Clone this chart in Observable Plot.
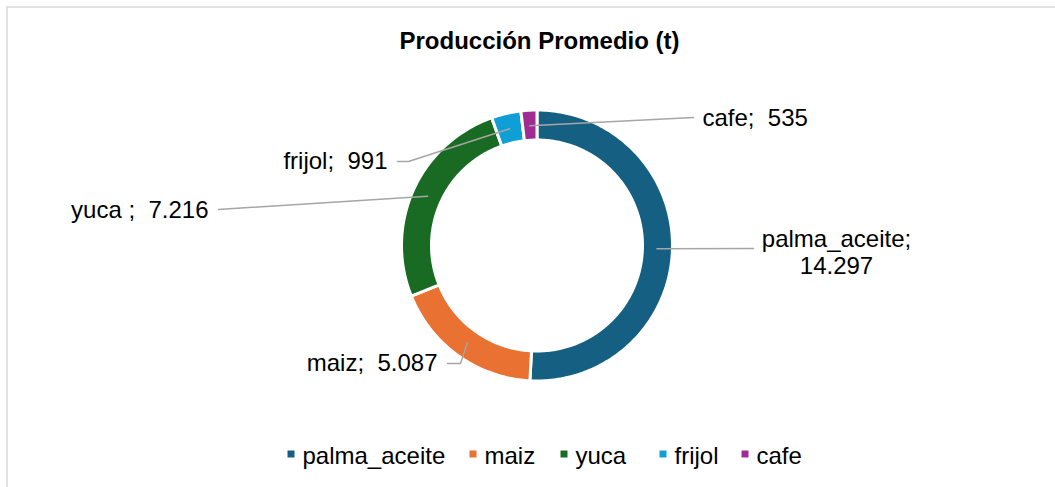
<!DOCTYPE html>
<html><head><meta charset="utf-8">
<script src="https://cdn.jsdelivr.net/npm/d3@7"></script>
<script src="https://cdn.jsdelivr.net/npm/@observablehq/plot@0.6"></script>
<style>
html,body{margin:0;padding:0;background:#fff;overflow:hidden;}
#chart svg{display:block;}
</style></head><body><div id="chart"></div>
<script>
// ---- data ----
const title = "Producción Promedio (t)";
const categories = ["palma_aceite", "maiz", "yuca ", "frijol", "cafe"];
const values = [14297, 5087, 7216, 991, 535];
const colors = ["#156082", "#E97132", "#196B24", "#0F9ED5", "#A02B93"];

// ---- layout (pixels) ----
const W = 1055, H = 487;
const cx = 536.5, cy = 245, rOuter = 135.5, rInner = 105.5, rLeader = 120;
const FONT = "'Liberation Sans', Arial, sans-serif";
const labelLayout = [
  {leader: [[753, 248]], x: 836, y: 251.5, anchor: "middle", sep: ";\n"},
  {leader: [[460, 363], [447, 363]], x: 437, y: 362, anchor: "end", sep: ";\u00a0\u00a0"},
  {leader: [[218, 209]], x: 208, y: 209, anchor: "end", sep: ";\u00a0\u00a0"},
  {leader: [[408, 161], [397, 161]], x: 387, y: 160, anchor: "end", sep: ";\u00a0\u00a0"},
  {leader: [[693, 117]], x: 702, y: 117, anchor: "start", sep: ";\u00a0\u00a0"}
];
const legendX = [287, 469, 560, 659, 741];
const legendY = 456, titleX = 539, titleY = 41;

// ---- derived ----
const fmt = d3.formatLocale({decimal: ",", thousands: ".", grouping: [3], currency: ["", ""]}).format(",d");
const arcs = d3.pie().sort(null).value(d => d)(values);
const pt = (r, a) => ({x: cx + r * Math.sin(a), y: cy - r * Math.cos(a)});

const slicePts = [];
arcs.forEach((a, i) => {
  const n = Math.max(6, Math.ceil((a.endAngle - a.startAngle) / (2 * Math.PI) * 360));
  for (let k = 0; k <= n; k++) slicePts.push({key: categories[i], ...pt(rOuter, a.startAngle + (a.endAngle - a.startAngle) * k / n)});
  for (let k = n; k >= 0; k--) slicePts.push({key: categories[i], ...pt(rInner, a.startAngle + (a.endAngle - a.startAngle) * k / n)});
});

const leaderPts = [];
arcs.forEach((a, i) => {
  const mid = (a.startAngle + a.endAngle) / 2;
  leaderPts.push({key: categories[i], ...pt(rLeader, mid)});
  labelLayout[i].leader.forEach(([x, y]) => leaderPts.push({key: categories[i], x, y}));
});

const labels = categories.map((c, i) => ({
  text: c + labelLayout[i].sep + fmt(values[i]),
  x: labelLayout[i].x, y: labelLayout[i].y, anchor: labelLayout[i].anchor
}));

const textMark = (anchor) => Plot.text(labels, {
  filter: d => d.anchor === anchor, x: "x", y: "y", text: "text",
  textAnchor: anchor, fontSize: 24, fill: "#000", lineHeight: 1.12
});

const chart = Plot.plot({
  width: W, height: H, margin: 0,
  x: {domain: [0, W], range: [0, W], axis: null},
  y: {domain: [0, H], range: [0, H], axis: null},
  color: {domain: categories, range: colors},
  style: {fontFamily: FONT, background: "white", overflow: "hidden"},
  marks: [
    Plot.frame({stroke: "#d9d9d9", strokeWidth: 1.5, insetLeft: 6.5, insetTop: 6.5, insetRight: -10, insetBottom: -10}),
    Plot.line(slicePts, {x: "x", y: "y", z: "key", fill: "key", stroke: "white", strokeWidth: 3, curve: "linear-closed", strokeLinejoin: "miter", strokeMiterlimit: 4}),
    Plot.line(leaderPts, {x: "x", y: "y", z: "key", stroke: "#a6a6a6", strokeWidth: 1.5}),
    textMark("start"), textMark("middle"), textMark("end"),
    Plot.text([title], {x: () => titleX, y: () => titleY, text: d => d, fontSize: 24, fontWeight: "bold", fill: "#000"}),
    Plot.dot(categories, {x: (d, i) => legendX[i] + 3.5, y: () => legendY - 2.5, symbol: "square", r: 3.95, fill: d => d}),
    Plot.text(categories, {x: (d, i) => legendX[i] + 15, y: () => legendY, text: d => d, textAnchor: "start", fontSize: 24, fill: "#000"})
  ]
});
document.getElementById("chart").appendChild(chart);
</script>
</body></html>
